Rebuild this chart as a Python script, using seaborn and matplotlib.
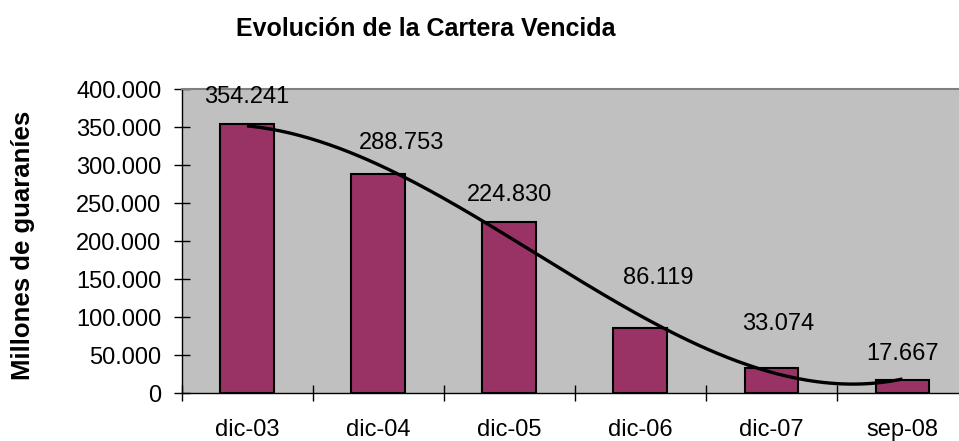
import numpy as np
import pandas as pd
import matplotlib
matplotlib.use('Agg')
import matplotlib.pyplot as plt
import seaborn as sns

periods = ['dic-03', 'dic-04', 'dic-05', 'dic-06', 'dic-07', 'sep-08']
cartera = [354241, 288753, 224830, 86119, 33074, 17667]
yticks = [0, 50000, 100000, 150000, 200000, 250000, 300000, 350000, 400000]

# label nudges in pixels (some labels were dragged in the original)
lab_dx = [0, 23, 0, 18, 7, 0]
lab_dy = [27, 31, 27, 50, 44, 26]


def fmt(v):
    return f"{int(v):,}".replace(',', '.')


sns.set_style('ticks')
plt.rcParams['font.family'] = ['Liberation Sans', 'DejaVu Sans']
plt.rcParams['text.color'] = 'black'
plt.rcParams['xtick.color'] = 'black'
plt.rcParams['ytick.color'] = 'black'
plt.rcParams['axes.labelcolor'] = 'black'

df = pd.DataFrame({'periodo': periods, 'cartera': cartera})

fig = plt.figure(figsize=(9.59, 4.41), dpi=100)
ax = fig.add_axes([181.5/959, 48/441, (968-181.5)/959, 304/441])
ax.set_facecolor('#C0C0C0')

sns.barplot(data=df, x='periodo', y='cartera', color='#993366', saturation=1,
            width=0.41, edgecolor='black', linewidth=1.5, ax=ax)

# polynomial trend line (order 3), like the Excel one
xs = np.arange(len(cartera))
coef = np.polyfit(xs, cartera, 3)
xx = np.linspace(0, len(cartera) - 1, 200)
ax.plot(xx, np.polyval(coef, xx), color='black', lw=2.4, solid_capstyle='butt')

for i, v in enumerate(cartera):
    ax.annotate(fmt(v), (i, v), xytext=(lab_dx[i], lab_dy[i]), textcoords='offset pixels',
                ha='center', va='center', fontsize=17, color='black')

ax.set_xlim(-0.5, len(periods) - 0.5)
ax.set_ylim(0, 400000)
ax.set_yticks(yticks)
ax.set_yticklabels([fmt(t) for t in yticks], fontsize=17)
ax.tick_params(axis='y', direction='inout', length=11, width=1, pad=9)

# major ticks between categories, labels at the centres
ax.set_xticks(np.arange(len(periods) + 1) - 0.5)
ax.set_xticklabels([])
ax.set_xticks(xs, minor=True)
ax.set_xticklabels(periods, minor=True, fontsize=17)
ax.tick_params(axis='x', which='major', direction='inout', length=11, width=1)
ax.tick_params(axis='x', which='minor', length=0, pad=19)

ax.set_xlabel('')
ax.set_ylabel('')
for s in ['left', 'bottom']:
    ax.spines[s].set_color('black')
    ax.spines[s].set_linewidth(1)
ax.spines['top'].set_visible(True)
ax.spines['top'].set_color('#808080')
ax.spines['top'].set_linewidth(1.5)
ax.spines['right'].set_visible(False)

fig.text(426/959, (441-36)/441, 'Evolución de la Cartera Vencida', ha='center', va='baseline',
         fontsize=18, fontweight='bold')
fig.text(23/959, (441-245)/441, 'Millones de guaraníes', ha='center', va='center',
         rotation=90, fontsize=18.5, fontweight='bold')

fig.savefig('out.png', dpi=100)
